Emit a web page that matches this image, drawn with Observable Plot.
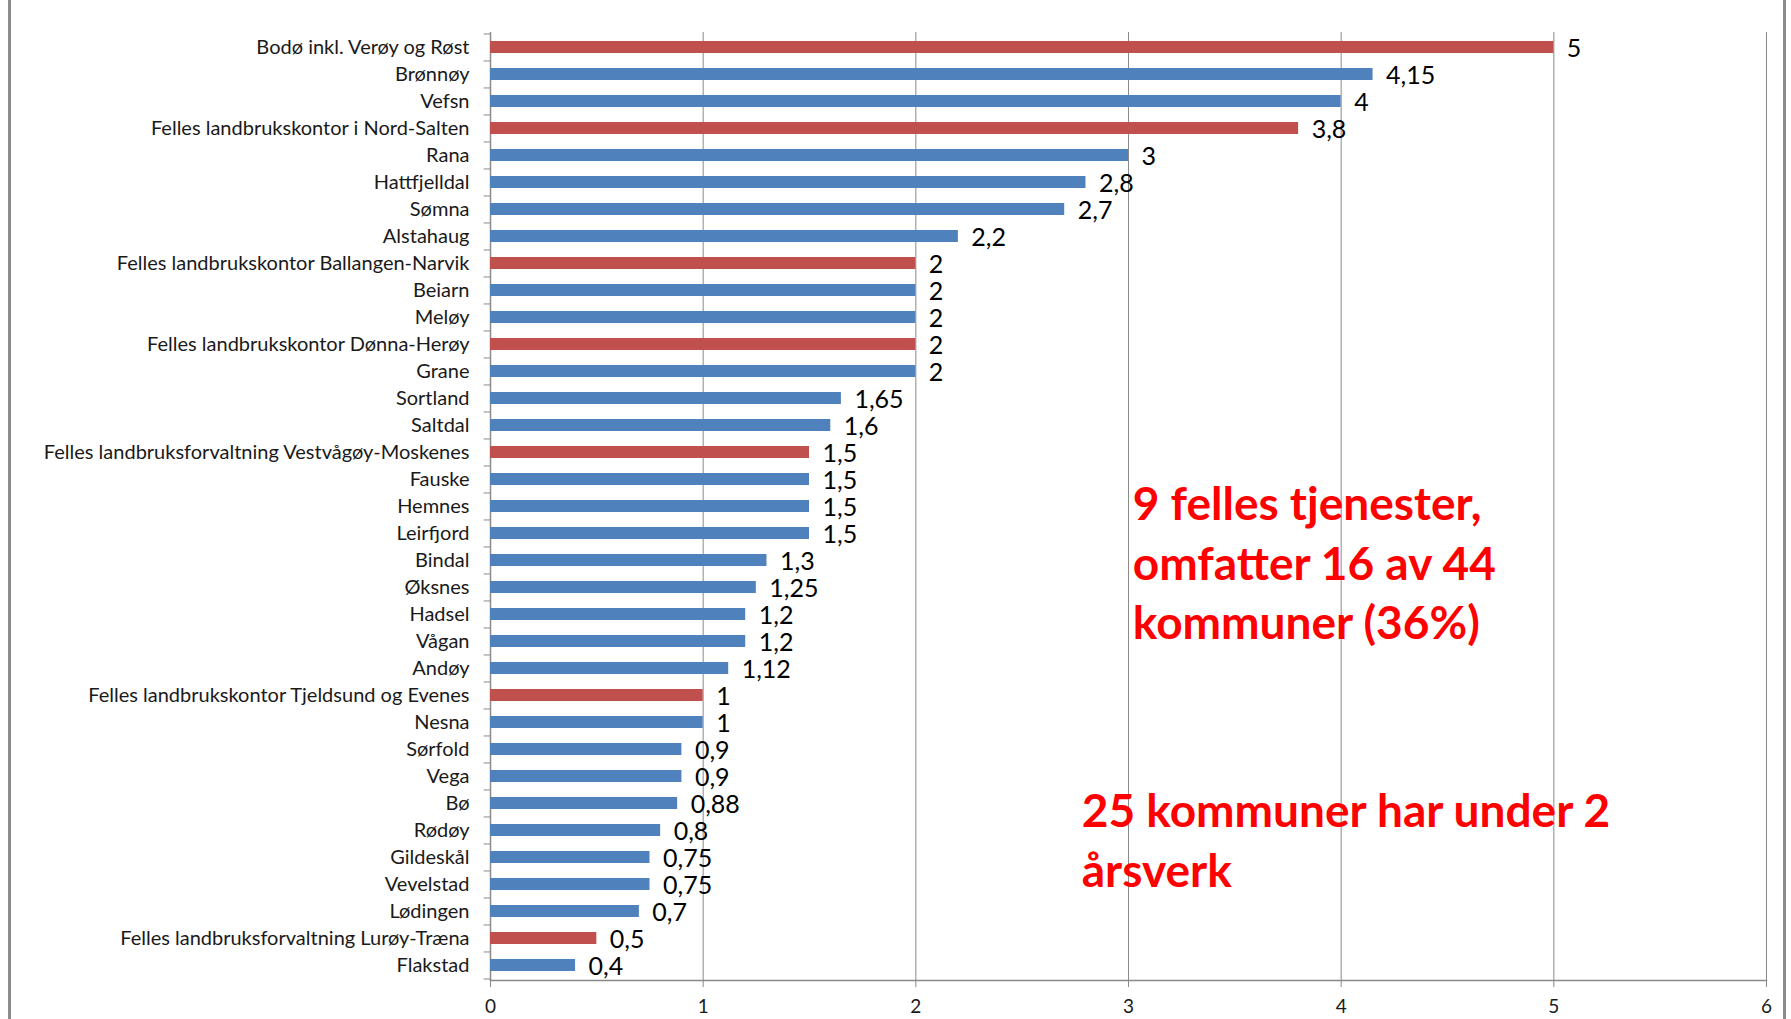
<!DOCTYPE html>
<html><head><meta charset="utf-8">
<script src="https://cdn.jsdelivr.net/npm/d3@7"></script>
<script src="https://cdn.jsdelivr.net/npm/@observablehq/plot@0.6"></script>
<style>
html,body{margin:0;padding:0;background:#fff;}
#wrap{position:relative;width:1791px;height:1019px;overflow:hidden;}
#wrap::before{content:"";position:absolute;left:8px;top:0;bottom:0;width:3px;background:#8c8c8c;}
#wrap::after{content:"";position:absolute;left:1783px;top:0;bottom:0;width:3px;background:#8c8c8c;}
</style></head><body><div id="wrap"></div>
<script>
const names = [
  "Bodø inkl. Verøy og Røst","Brønnøy","Vefsn","Felles landbrukskontor i Nord-Salten","Rana",
  "Hattfjelldal","Sømna","Alstahaug","Felles landbrukskontor Ballangen-Narvik","Beiarn",
  "Meløy","Felles landbrukskontor Dønna-Herøy","Grane","Sortland","Saltdal",
  "Felles landbruksforvaltning Vestvågøy-Moskenes","Fauske","Hemnes","Leirfjord","Bindal",
  "Øksnes","Hadsel","Vågan","Andøy","Felles landbrukskontor Tjeldsund og Evenes",
  "Nesna","Sørfold","Vega","Bø","Rødøy",
  "Gildeskål","Vevelstad","Lødingen","Felles landbruksforvaltning Lurøy-Træna","Flakstad"
];
const values = [
  5,4.15,4,3.8,3,
  2.8,2.7,2.2,2,2,
  2,2,2,1.65,1.6,
  1.5,1.5,1.5,1.5,1.3,
  1.25,1.2,1.2,1.12,1,
  1,0.9,0.9,0.88,0.8,
  0.75,0.75,0.7,0.5,0.4
];
const sharedService = [
  "Bodø inkl. Verøy og Røst","Felles landbrukskontor i Nord-Salten","Felles landbrukskontor Ballangen-Narvik",
  "Felles landbrukskontor Dønna-Herøy","Felles landbruksforvaltning Vestvågøy-Moskenes",
  "Felles landbrukskontor Tjeldsund og Evenes","Felles landbruksforvaltning Lurøy-Træna"
];
const xTicks = [0,1,2,3,4,5,6];
const annoTexts = ["9 felles tjenester,\nomfatter 16 av 44\nkommuner (36%)", "25 kommuner har under 2\nårsverk"];
const annoX = [3.02, 2.78];
const annoRow = ["Bindal", "Rødøy"];

const data = names.map((name, i) => ({name, value: values[i], type: sharedService.includes(name) ? "felles" : "kommune"}));
const annos = annoTexts.map((text, i) => ({text, x: annoX[i], row: annoRow[i]}));
const fmt = v => String(v).replace(".", ",");
const grid = "#8a8a8a";
const half = 13.54;

const annoStyle = {x: "x", y: "row", text: "text", textAnchor: "start", lineAnchor: "middle", lineHeight: 1.3, fontSize: 46, fontWeight: "bold", fill: "#ff0000"};

const chart = Plot.plot({
  width: 1791,
  height: 1019,
  marginLeft: 490,
  marginRight: 25,
  marginTop: 32,
  marginBottom: 39,
  style: {fontFamily: "Lato, sans-serif", fontSize: "20px", color: "#111", background: "transparent"},
  x: {domain: [0, 6]},
  y: {domain: names, paddingInner: 0.55, paddingOuter: 0.275, align: 0.5},
  color: {domain: ["kommune", "felles"], range: ["#4F81BD", "#C0504D"]},
  marks: [
    Plot.gridX({ticks: xTicks.filter(d => d > 0), stroke: grid, strokeOpacity: 1}),
    Plot.frame({anchor: "bottom", stroke: grid, strokeWidth: 1.5}),
    Plot.ruleX([0], {stroke: grid, strokeWidth: 1.5}),
    Plot.ruleY(data, {y: "name", x1: -0.03, x2: 0, dy: -half, stroke: grid}),
    Plot.ruleY(data.slice(-1), {y: "name", x1: -0.03, x2: 0, dy: half, stroke: grid}),
    Plot.barX(data, {x: "value", y: "name", fill: "type"}),
    Plot.text(data, {x: "value", y: "name", text: d => fmt(d.value), textAnchor: "start", dx: 13, dy: 1, fontSize: 25, fill: "#000"}),
    Plot.axisY({tickSize: 0, tickPadding: 21, fontSize: 20, fill: "#1a1a1a"}),
    Plot.axisX({ticks: xTicks, tickSize: 7, tickPadding: 12, fontSize: 19, stroke: grid, fill: "#1a1a1a", tickFormat: d => d, label: null}),
    Plot.text(annos.slice(0, 1), {...annoStyle, dy: 0}),
    Plot.text(annos.slice(1), {...annoStyle, dy: 7})
  ]
});
document.getElementById("wrap").appendChild(chart);
</script>
</body></html>
